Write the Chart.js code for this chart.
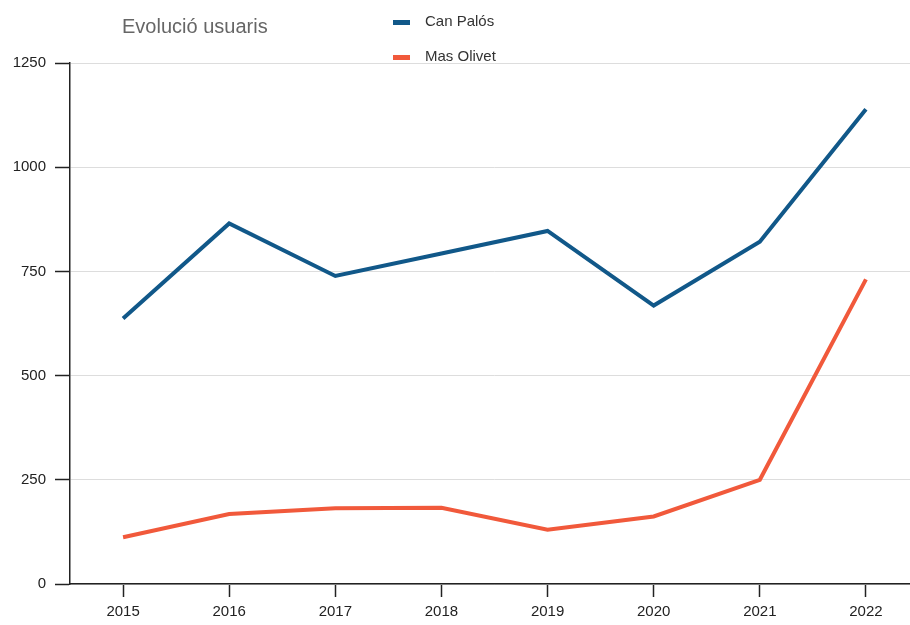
<html lang="ca">
<head>
  <meta charset="UTF-8">
  <title>Evolució usuaris</title>
  <script src="https://cdn.jsdelivr.net/npm/chart.js"></script>
  <style>
    body { margin: 0; width: 910px; height: 625px; overflow: hidden; background: #fff; font-family: "Liberation Sans", Arial, sans-serif; position: relative; }
    #wrap { position: absolute; left: 0; top: 0; width: 919px; height: 625px; }
    .title { position: absolute; left: 122px; top: 15px; font-size: 20px; color: #666; }
    .legend { position: absolute; left: 393px; font-size: 15px; color: #333; line-height: 18px; }
    .legend span { display: inline-block; width: 17px; height: 5px; margin-right: 15px; vertical-align: middle; }
  </style>
</head>
<body>
  <div id="wrap"><canvas id="viz"></canvas></div>
  <div class="title">Evolució usuaris</div>
  <div class="legend" style="top: 12px"><span style="background:#115889"></span>Can Palós</div>
  <div class="legend" style="top: 47px"><span style="background:#f1593b"></span>Mas Olivet</div>

  <script>
    const years = ['2015', '2016', '2017', '2018', '2019', '2020', '2021', '2022']
    const canPalos = [637, 865, 739, 793, 847, 668, 821, 1139]
    const masOlivet = [112, 168, 182, 183, 130, 162, 250, 731]
    const yTicks = [0, 250, 500, 750, 1000, 1250]

    window.onload = () => {
      const viz = document.getElementById('viz')
      new Chart(viz, {
        type: 'line',
        data: {
          labels: years,
          datasets: [{
            label: 'Can Palós',
            data: canPalos,
            borderColor: '#115889',
            borderWidth: 4,
            pointRadius: 0,
            tension: 0
          }, {
            label: 'Mas Olivet',
            data: masOlivet,
            borderColor: '#f1593b',
            borderWidth: 4,
            pointRadius: 0,
            tension: 0
          }]
        },
        options: {
          responsive: true,
          maintainAspectRatio: false,
          animation: false,
          layout: { padding: { top: 63, right: 0, left: 0, bottom: 0 } },
          plugins: { legend: { display: false }, tooltip: { enabled: false } },
          scales: {
            x: {
              offset: true,
              grid: { offset: false, drawOnChartArea: false, tickLength: 13, tickColor: '#222', tickWidth: 1.5 },
              border: { color: '#222', width: 1.5 },
              ticks: { color: '#222', font: { family: 'Liberation Sans', size: 15 }, padding: 6, maxRotation: 0 },
              afterFit: (s) => { s.height = 41 }
            },
            y: {
              min: 0,
              max: 1250,
              afterBuildTicks: (s) => { s.ticks = yTicks.map(v => ({ value: v })) },
              grid: { color: '#dddddd', lineWidth: 1, tickLength: 15, tickColor: '#222', tickWidth: 1.5 },
              border: { color: '#222', width: 1.5 },
              ticks: { color: '#222', font: { family: 'Liberation Sans', size: 15 }, padding: 9, callback: (v) => String(v) },
              afterFit: (s) => { s.width = 70 }
            }
          }
        }
      })
    }
  </script>
</body>
</html>
